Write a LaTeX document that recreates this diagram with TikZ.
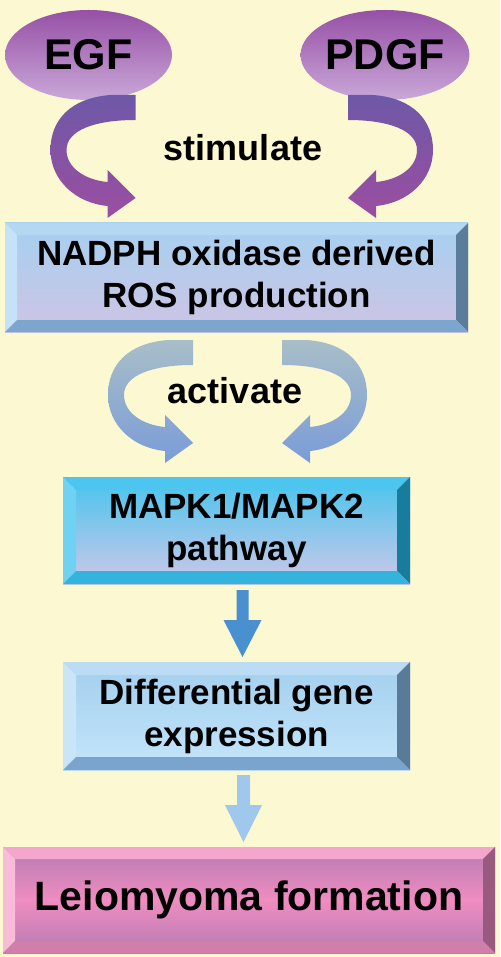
\documentclass[tikz,border=0pt]{standalone}
\usepackage{fontspec}
\setmainfont{Liberation Sans}
\usetikzlibrary{shapes.geometric,calc}

\definecolor{bgyel}{HTML}{FCF8D2}
\definecolor{sigtop}{HTML}{9650A6}
\definecolor{sigbot}{HTML}{CAA8D8}
\definecolor{stimtop}{HTML}{6E58A8}
\definecolor{stimbot}{HTML}{9C4EA0}
\definecolor{acttop}{HTML}{A8BEC8}
\definecolor{actbot}{HTML}{7A9CD8}
% nadph box
\definecolor{nadphtop}{HTML}{A6D0F0}
\definecolor{nadphbot}{HTML}{CEC4E4}
\definecolor{nadphbt}{HTML}{B4D8F2}
\definecolor{nadphbl}{HTML}{C6E2F6}
\definecolor{nadphbr}{HTML}{5C7C9C}
\definecolor{nadphbb}{HTML}{7CA6CE}
% mapk box
\definecolor{mapktop}{HTML}{46C4EE}
\definecolor{mapkbot}{HTML}{CEC8E8}
\definecolor{mapkbt}{HTML}{4CC6EE}
\definecolor{mapkbl}{HTML}{70D2F2}
\definecolor{mapkbr}{HTML}{187C9C}
\definecolor{mapkbb}{HTML}{34B4DC}
% diff box
\definecolor{difftop}{HTML}{A2CEEE}
\definecolor{diffbot}{HTML}{C4E6FA}
\definecolor{diffbt}{HTML}{BCDCF4}
\definecolor{diffbl}{HTML}{CAE4F8}
\definecolor{diffbr}{HTML}{5A7A9A}
\definecolor{diffbb}{HTML}{7AA4CC}
% leio box
\definecolor{leioedge}{HTML}{B47CB4}
\definecolor{leiomid}{HTML}{F08CC0}
\definecolor{leiobt}{HTML}{F4A6CC}
\definecolor{leiobl}{HTML}{F8BCD8}
\definecolor{leiobr}{HTML}{9A5A80}
\definecolor{leiobb}{HTML}{D27EAA}
% straight arrows
\definecolor{downa}{HTML}{4A90D0}
\definecolor{downb}{HTML}{A0C8EC}

\tikzset{
  sig/.style={ellipse, inner sep=0pt, outer sep=0pt, minimum width=167pt, minimum height=90pt,
    top color=sigtop, bottom color=sigbot, font=\fontsize{43}{50}\selectfont\bfseries},
  lbl/.style={inner sep=0pt, font=\fontsize{36}{42}\selectfont\bfseries},
  bevbox/.style={rectangle, inner sep=0pt, outer sep=0pt, align=center,
    font=\fontsize{35}{42}\selectfont\bfseries},
  curl/.pic={
    \path[pic actions] (0,0) -- (-25,0) .. controls (-65,-3) and (-85,-25) .. (-85,-55)
      .. controls (-85,-85) and (-60,-108) .. (-28,-111) -- (-28,-123) -- (0,-103)
      -- (-28,-75) -- (-28,-87) .. controls (-50,-85) and (-69,-73) .. (-69,-55)
      .. controls (-69,-35) and (-40,-25) .. (0,-25) -- cycle;
  }
}

% bevelled frame: node, size, top, left, right, bottom
\newcommand{\bevel}[6]{%
  \fill[#3] (#1.north west) -- (#1.north east) -- ([shift={(-#2,-#2)}]#1.north east) -- ([shift={(#2,-#2)}]#1.north west) -- cycle;
  \fill[#4] (#1.north west) -- ([shift={(#2,-#2)}]#1.north west) -- ([shift={(#2,#2)}]#1.south west) -- (#1.south west) -- cycle;
  \fill[#5] (#1.north east) -- ([shift={(-#2,-#2)}]#1.north east) -- ([shift={(-#2,#2)}]#1.south east) -- (#1.south east) -- cycle;
  \fill[#6] (#1.south west) -- ([shift={(#2,#2)}]#1.south west) -- ([shift={(-#2,#2)}]#1.south east) -- (#1.south east) -- cycle;
}

\begin{document}
\begin{tikzpicture}[x=1pt,y=1pt]
  \useasboundingbox (0,0) rectangle (500,-957);
  \fill[bgyel] (0,0) rectangle (500,-957);

  % growth factors
  \node[sig] (egf) at (88.5,-55) {EGF};
  \node[sig] (pdgf) at (385,-55) {PDGF};

  % boxes
  \node[bevbox, minimum width=463pt, minimum height=109pt, top color=nadphtop, bottom color=nadphbot]
    (nadph) at (236.5,-277.5) {NADPH oxidase derived\\ROS production};
  \bevel{nadph}{12}{nadphbt}{nadphbl}{nadphbr}{nadphbb}

  \node[bevbox, minimum width=347pt, minimum height=107pt, top color=mapktop, bottom color=mapkbot]
    (mapk) at (236.5,-530.5) {MAPK1/MAPK2\\pathway};
  \bevel{mapk}{13}{mapkbt}{mapkbl}{mapkbr}{mapkbb}

  \node[bevbox, minimum width=347pt, minimum height=108pt, top color=difftop, bottom color=diffbot]
    (diff) at (236.5,-716) {Differential gene\\expression};
  \bevel{diff}{13}{diffbt}{diffbl}{diffbr}{diffbb}

  \node[bevbox, minimum width=492pt, minimum height=106pt, top color=leioedge, bottom color=leioedge,
    middle color=leiomid, font=\fontsize{41}{48}\selectfont\bfseries]
    (leio) at (249,-900) {Leiomyoma formation};
  \bevel{leio}{12}{leiobt}{leiobl}{leiobr}{leiobb}

  % curved arrows
  \pic[top color=stimtop, bottom color=stimbot] at ([xshift=47,yshift=5]egf.south) {curl};
  \pic[xscale=-1, top color=stimtop, bottom color=stimbot] at ([xshift=-37,yshift=5]pdgf.south) {curl};
  \node[lbl] (stim) at (243,-148) {stimulate};

  \pic[top color=acttop, bottom color=actbot] at ([xshift=-43.5,yshift=-8]nadph.south) {curl};
  \pic[xscale=-1, top color=acttop, bottom color=actbot] at ([xshift=45.5,yshift=-8]nadph.south) {curl};
  \node[lbl] (act) at (235,-391) {activate};

  % straight arrows
  \coordinate (a1) at ([xshift=6,yshift=-6]mapk.south);
  \coordinate (b1) at ([xshift=6,yshift=5]diff.north);
  \fill[downa] (a1) ++(-6,0) -- ++(12,0) -- ++(0,-30) -- ++(13,0) -- (b1) -- ++(-19,37) -- ++(13,0) -- cycle;

  \coordinate (a2) at ([xshift=7,yshift=-5]diff.south);
  \coordinate (b2) at ([xshift=-5.5,yshift=5]leio.north);
  \fill[downb] (a2) ++(-6.5,0) -- ++(13,0) -- ++(0,-30) -- ++(12,0) -- (b2) -- ++(-18.5,37) -- ++(12,0) -- cycle;
\end{tikzpicture}
\end{document}
